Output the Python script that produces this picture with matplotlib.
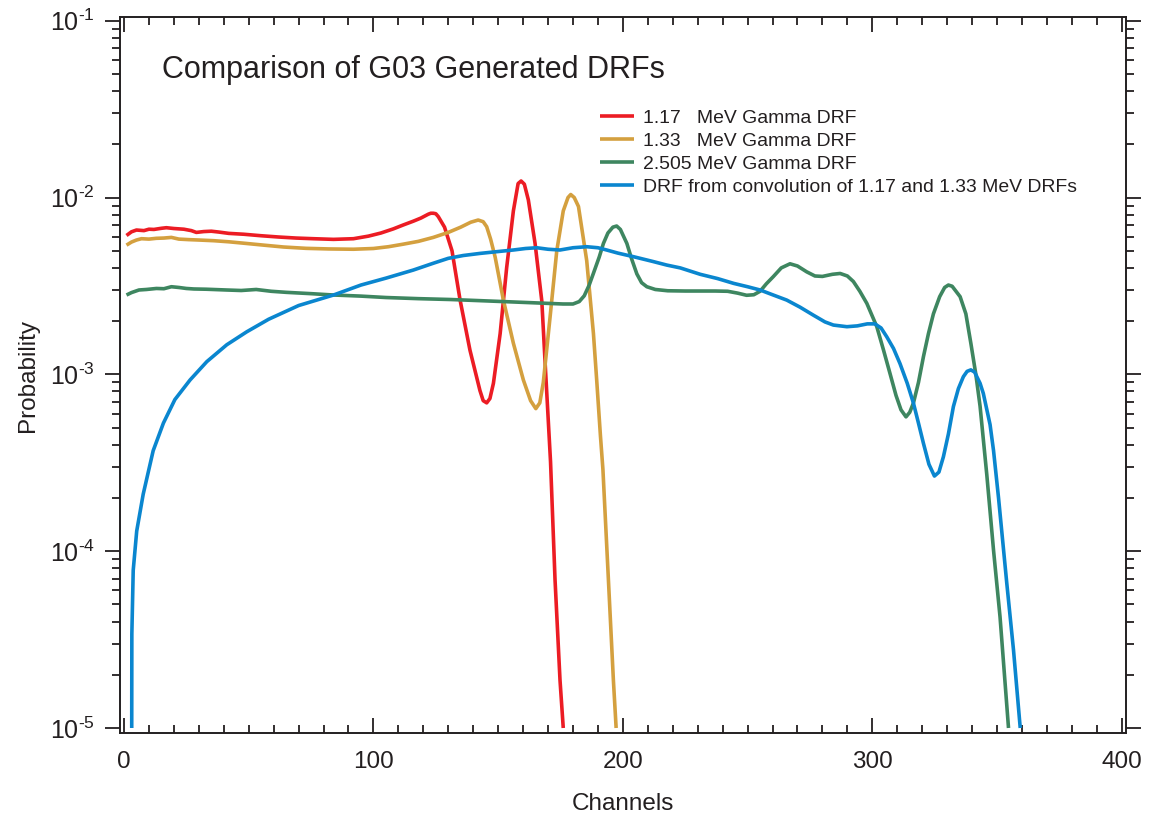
import matplotlib
matplotlib.use("Agg")
import matplotlib.pyplot as plt
from matplotlib.ticker import MultipleLocator, LogLocator, NullFormatter

plt.rcParams['font.family'] = ['Liberation Sans', 'DejaVu Sans']
plt.rcParams['mathtext.fontset'] = 'custom'
plt.rcParams['mathtext.rm'] = 'Liberation Sans'
plt.rcParams['mathtext.it'] = 'Liberation Sans:italic'
plt.rcParams['mathtext.bf'] = 'Liberation Sans:bold'

TXT = '#231f20'

# ---------------- data ----------------
ch_117 = [1, 3, 5, 8, 10, 12, 15, 17, 20, 24, 27, 29, 32, 35, 38, 42, 48, 55, 62, 69,
          76, 84, 92, 98, 103, 108, 112, 116, 119, 122, 123, 124, 125, 126, 128.5, 131.5,
          134.7, 138.7, 142.7, 144, 145.4, 146.7, 148.1, 150.8, 153.4, 156.1, 158, 159.2,
          160.5, 162.1, 164.8, 167.5, 169, 171, 172.8, 174.8, 176.1]
p_117 = [6.1e-3, 6.4e-3, 6.55e-3, 6.5e-3, 6.62e-3, 6.6e-3, 6.7e-3, 6.75e-3, 6.68e-3, 6.62e-3,
         6.5e-3, 6.35e-3, 6.42e-3, 6.45e-3, 6.38e-3, 6.27e-3, 6.2e-3, 6.08e-3, 5.98e-3, 5.9e-3,
         5.85e-3, 5.8e-3, 5.85e-3, 6.05e-3, 6.3e-3, 6.65e-3, 7.0e-3, 7.35e-3, 7.65e-3, 8.05e-3,
         8.15e-3, 8.15e-3, 8.1e-3, 7.8e-3, 6.8e-3, 5.0e-3,
         2.65e-3, 1.37e-3, 8.1e-4, 7.1e-4, 6.9e-4, 7.3e-4, 8.9e-4, 1.7e-3, 4.0e-3, 8.4e-3, 1.2e-2, 1.24e-2,
         1.19e-2, 9.7e-3, 5.5e-3, 2.6e-3, 1.05e-3, 3.2e-4, 6.9e-5, 1.86e-5, 1.0e-5]

ch_133 = [1, 3, 5, 7, 10, 13, 16, 19, 22, 26, 30, 36, 42, 49, 56, 64, 73, 82, 92, 100,
          106, 112, 118, 124, 130, 135, 139, 142, 144, 145.4, 147, 148.8, 152.1, 156.1, 160.1,
          163, 165.1, 166.7, 168.1, 170.8, 173.5, 176.1, 178, 179.1, 180.5, 182.2, 185.5,
          188.2, 189.5, 191, 192, 194.2, 196.2, 197.3]
p_133 = [5.38e-3, 5.6e-3, 5.75e-3, 5.85e-3, 5.82e-3, 5.88e-3, 5.9e-3, 5.95e-3, 5.82e-3, 5.78e-3,
         5.75e-3, 5.7e-3, 5.62e-3, 5.5e-3, 5.38e-3, 5.25e-3, 5.16e-3, 5.12e-3, 5.1e-3, 5.15e-3,
         5.27e-3, 5.45e-3, 5.65e-3, 5.95e-3, 6.35e-3, 6.8e-3, 7.25e-3, 7.46e-3, 7.3e-3, 6.84e-3,
         5.8e-3, 4.6e-3, 2.63e-3, 1.5e-3, 9.3e-4,
         7.1e-4, 6.4e-4, 6.9e-4, 9.0e-4, 2.1e-3, 5.0e-3, 8.4e-3, 1.0e-2, 1.04e-2, 1.0e-2, 8.9e-3, 4.4e-3,
         1.7e-3, 9.3e-4, 4.5e-4, 2.9e-4, 6.9e-5, 1.86e-5, 1.0e-5]

ch_2505 = [1, 3, 6, 9, 13, 16, 19, 22, 25, 28, 33, 41, 47, 53, 59, 65, 75, 84, 95, 105,
           118, 131, 143, 155, 167, 176, 180, 182.5, 184.5, 186.5, 188.2, 190.5, 192.2, 194,
           196, 197.5, 199, 201.6, 203.5, 205.6, 207.5, 209.6, 213, 218, 225, 231, 237, 242,
           246, 249.6, 252.5, 255, 257.5, 260.3, 263.5, 267, 270, 273.7, 277, 280, 284, 287.1,
           290, 292.4, 295, 297.8, 301.8, 304.5, 307.1, 309.5, 311.5, 313.5, 315, 316.5, 318.5,
           320.5, 322.5, 324.5, 327, 329, 330.5, 332, 335.2, 337.5, 339.5, 341.5, 343.2, 345.9,
           348.6, 351.2, 354.6]
p_2505 = [2.81e-3, 2.9e-3, 3.0e-3, 3.02e-3, 3.06e-3, 3.05e-3, 3.13e-3, 3.1e-3, 3.06e-3, 3.04e-3,
          3.03e-3, 3.0e-3, 2.98e-3, 3.02e-3, 2.95e-3, 2.91e-3, 2.86e-3, 2.81e-3, 2.77e-3, 2.72e-3,
          2.68e-3, 2.65e-3, 2.61e-3, 2.57e-3, 2.53e-3, 2.5e-3, 2.5e-3, 2.58e-3, 2.78e-3, 3.2e-3,
          3.73e-3, 4.6e-3, 5.5e-3, 6.3e-3,
          6.8e-3, 6.9e-3, 6.6e-3, 5.5e-3, 4.5e-3, 3.7e-3, 3.3e-3, 3.13e-3, 3.02e-3, 2.97e-3, 2.96e-3,
          2.96e-3, 2.96e-3, 2.95e-3,
          2.88e-3, 2.8e-3, 2.82e-3, 2.95e-3, 3.25e-3, 3.57e-3, 4.0e-3, 4.22e-3, 4.1e-3, 3.8e-3, 3.6e-3,
          3.58e-3, 3.68e-3, 3.72e-3,
          3.6e-3, 3.35e-3, 2.95e-3, 2.52e-3, 1.86e-3, 1.37e-3, 1.01e-3, 7.6e-4, 6.3e-4, 5.75e-4,
          6.1e-4, 6.9e-4, 9.0e-4,
          1.26e-3, 1.7e-3, 2.2e-3, 2.75e-3, 3.1e-3, 3.2e-3, 3.15e-3, 2.75e-3, 2.2e-3, 1.5e-3, 1.0e-3,
          6.6e-4, 2.7e-4,
          1.01e-4, 4.25e-5, 1.0e-5]

ch_conv = [3.1, 3.15, 3.7, 5.1, 7.7, 11.7, 15.8, 20.4, 26.5, 33.2, 41.2, 49.2, 58, 70, 84, 95,
           105, 116, 124, 130, 136, 142.7, 150, 156.1, 161, 165.5, 170, 174.8, 180, 185.5, 190,
           193.5, 198, 204.2, 212, 217.6, 223, 231, 238, 244.4, 250, 255, 260, 265.7, 271, 276.4,
           281, 284.4, 289.8, 294, 298, 301, 303.5, 305.8, 308.5, 311.1, 314, 316.5, 318.5,
           320.5, 322.7, 324.9, 326.7, 328.5, 330.5, 332.5, 334.5, 336.5, 338, 339.5, 341, 343.2,
           344.5, 347.2, 348.6, 350.6, 353.9, 356.6, 359.3]
p_conv = [1.0e-5, 3.4e-5, 7.8e-5, 1.3e-4, 2.1e-4, 3.7e-4, 5.3e-4, 7.2e-4, 9.3e-4, 1.18e-3,
          1.47e-3, 1.74e-3, 2.05e-3, 2.45e-3, 2.81e-3, 3.2e-3,
          3.5e-3, 3.89e-3, 4.25e-3, 4.53e-3, 4.7e-3, 4.83e-3, 4.95e-3, 5.05e-3, 5.15e-3, 5.2e-3,
          5.1e-3, 5.05e-3, 5.2e-3, 5.27e-3, 5.2e-3,
          5.05e-3, 4.85e-3, 4.63e-3, 4.35e-3, 4.15e-3, 4.0e-3, 3.68e-3, 3.48e-3, 3.27e-3, 3.13e-3,
          3.0e-3, 2.82e-3, 2.63e-3, 2.4e-3, 2.16e-3,
          1.98e-3, 1.9e-3, 1.86e-3, 1.88e-3, 1.93e-3, 1.93e-3, 1.83e-3, 1.63e-3, 1.4e-3, 1.15e-3,
          8.9e-4, 6.86e-4, 5.3e-4,
          4.07e-4, 3.1e-4, 2.66e-4, 2.8e-4, 3.42e-4, 4.6e-4, 6.57e-4, 8.3e-4, 9.7e-4, 1.04e-3,
          1.06e-3, 1.03e-3, 8.9e-4,
          7.8e-4, 5.2e-4, 3.7e-4, 2.0e-4, 6.6e-5, 2.76e-5, 1.0e-5]

series_labels = ["1.17   MeV Gamma DRF", "1.33   MeV Gamma DRF", "2.505 MeV Gamma DRF",
                 "DRF from convolution of 1.17 and 1.33 MeV DRFs"]
series_colors = ['#ec1c24', '#d4a03f', '#3e8660', '#0a86cf']

x_ticks = [0, 100, 200, 300, 400]
x_tick_labels = ['0', '100', '200', '300', '400']
y_ticks = [1e-5, 1e-4, 1e-3, 1e-2, 1e-1]
y_tick_labels = [r'$10^{\text{-}5}$', r'$10^{\text{-}4}$', r'$10^{\text{-}3}$',
                 r'$10^{\text{-}2}$', r'$10^{\text{-}1}$']

title_text = "Comparison of G03 Generated DRFs"
x_label = "Channels"
y_label = "Probability"

# ---------------- figure ----------------
fig = plt.figure(figsize=(11.52, 8.24), dpi=100)
ax = fig.add_axes([120/1152, 1 - 733/824, (1126 - 120)/1152, (733 - 17)/824])

xs = [ch_117, ch_133, ch_2505, ch_conv]
ys = [p_117, p_133, p_2505, p_conv]
for x, y, lab, col in zip(xs, ys, series_labels, series_colors):
    ax.plot(x, y, color=col, lw=2.6, label=lab, solid_joinstyle='round', solid_capstyle='butt')

ax.set_yscale('log')
ax.set_xlim(-1.6, 401.7)
ax.set_ylim(10**-5.0283, 10**-0.979)

ax.set_xticks(x_ticks)
ax.set_xticklabels(x_tick_labels)
ax.xaxis.set_minor_locator(MultipleLocator(10))
ax.set_yticks(y_ticks)
ax.set_yticklabels(y_tick_labels)
ax.yaxis.set_minor_locator(LogLocator(base=10, subs=[2, 3, 4, 5, 6, 7, 8, 9]))
ax.yaxis.set_minor_formatter(NullFormatter())

ax.tick_params(axis='x', which='both', direction='in', top=True, bottom=True,
               colors=TXT, labelsize=17.5, pad=13)
ax.tick_params(axis='x', which='major', length=11, width=1.3)
ax.tick_params(axis='x', which='minor', length=6, width=1.3)
ax.tick_params(axis='y', which='both', direction='out', left=True, right=True,
               colors=TXT, labelsize=18, pad=7)
ax.tick_params(axis='y', which='major', length=11, width=1.3)
ax.tick_params(axis='y', which='minor', length=6, width=1.3)
for s in ax.spines.values():
    s.set_color(TXT)
    s.set_linewidth(1.4)

ax.set_xlabel(x_label, fontsize=17.5, color=TXT, labelpad=14)
ax.set_ylabel(y_label, fontsize=17.5, color=TXT, labelpad=8)

fig.text(162/1152, 1 - 78/824, title_text, fontsize=22, color=TXT, ha='left', va='baseline')

leg = ax.legend(loc='upper left', bbox_to_anchor=(600/1152, 1 - 109/824),
                bbox_transform=fig.transFigure, frameon=False, fontsize=13.95,
                handlelength=1.75, handletextpad=0.45, borderpad=0, borderaxespad=0,
                labelspacing=0.28)
for t in leg.get_texts():
    t.set_color(TXT)

fig.savefig('out.png', dpi=100)
